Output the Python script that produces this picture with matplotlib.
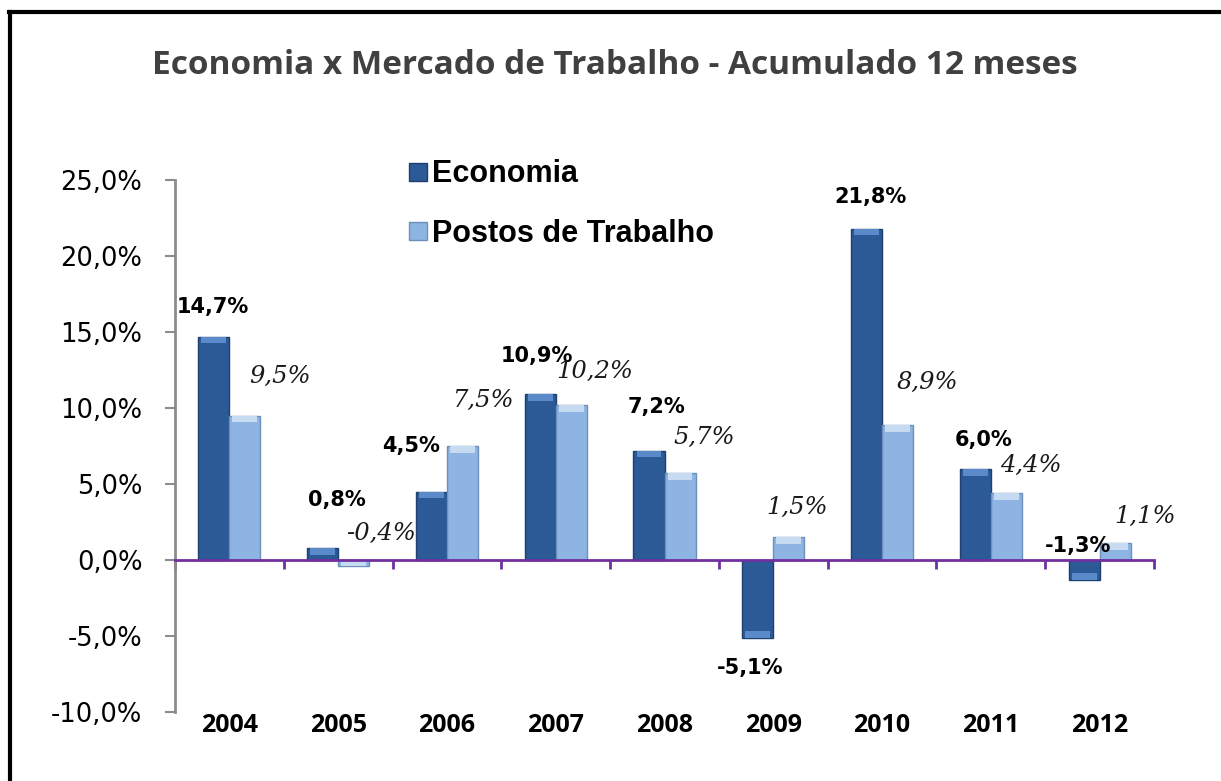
import numpy as np
import matplotlib
matplotlib.use('Agg')
import matplotlib.pyplot as plt
from matplotlib.lines import Line2D
from matplotlib.ticker import FuncFormatter

# Data
years = ['2004', '2005', '2006', '2007', '2008', '2009', '2010', '2011', '2012']
economia = [14.7, 0.8, 4.5, 10.9, 7.2, -5.1, 21.8, 6.0, -1.3]
postos = [9.5, -0.4, 7.5, 10.2, 5.7, 1.5, 8.9, 4.4, 1.1]
series_names = ['Economia', 'Postos de Trabalho']

# label offsets in pixels (dx, dy) from bar end
eco_off = [(-1, 30), (14, 48), (-20, 46), (-3, 38), (8, 44), (-8, -30), (4, 32), (8, 29), (-6, 34)]
pos_off = [(35, 39), (27, 33), (20, 46), (24, 33), (24, 36), (8, 30), (30, 42), (24, 28), (30, 27)]

DARK = '#2B5A97'
DARK_EDGE = '#1E406E'
LIGHT = '#8DB4E2'
LIGHT_EDGE = '#6E8FBA'
PURPLE = '#7030A0'

W, H = 1221, 781
fig = plt.figure(figsize=(W / 100, H / 100), dpi=100)
ax = fig.add_axes([175 / W, 1 - 712 / H, (1154 - 175) / W, (712 - 180) / H])

x = np.arange(len(years))
bw = 0.285
b1 = ax.bar(x - bw / 2, economia, bw, color=DARK, edgecolor=DARK_EDGE, linewidth=1, zorder=3)
b2 = ax.bar(x + bw / 2, postos, bw, color=LIGHT, edgecolor=LIGHT_EDGE, linewidth=1, zorder=3)

# light bevel at bar tops
for bars, col in ((b1, '#5B8ACB'), (b2, '#C6DBF2')):
    for b in bars:
        h = b.get_height()
        sgn = 1 if h >= 0 else -1
        cap = min(abs(h), 0.45)
        ax.bar(b.get_x() + b.get_width() / 2, sgn * cap, b.get_width() * 0.8,
               bottom=h - sgn * cap, color=col, linewidth=0, zorder=4)

ax.set_xlim(-0.5, len(years) - 0.5)
ax.set_ylim(-10, 25)
ax.set_yticks(np.arange(-10, 26, 5))
ax.yaxis.set_major_formatter(FuncFormatter(lambda v, p: f'{v:.1f}%'.replace('.', ',')))

for s in ('top', 'right'):
    ax.spines[s].set_visible(False)
ax.spines['left'].set_color('#8C8C8C')
ax.spines['left'].set_linewidth(2)
ax.spines['bottom'].set_position(('data', 0))
ax.spines['bottom'].set_color(PURPLE)
ax.spines['bottom'].set_linewidth(2)
ax.spines['bottom'].set_zorder(5)

ax.tick_params(axis='y', colors='#8C8C8C', length=7.5, width=1.5, pad=16,
               labelsize=18.5, labelcolor='black')
ax.set_xticks(x)
ax.set_xticklabels([])
ax.tick_params(axis='x', which='major', length=0)
ax.set_xticks(np.arange(len(years) + 1) - 0.5, minor=True)
ax.tick_params(axis='x', which='minor', direction='out', length=6.5, width=2, color=PURPLE)

for i, yr in enumerate(years):
    ax.annotate(yr, (i, -10), xytext=(0, -1), textcoords='offset pixels',
                ha='center', va='top', fontsize=18, fontweight='bold',
                family='Open Sans', color='black')

# data labels
for i in range(len(years)):
    v = economia[i]
    dx, dy = eco_off[i]
    ax.annotate(f'{v:.1f}%'.replace('.', ','), (i - bw / 2, v), xytext=(dx, dy),
                textcoords='offset pixels', ha='center', va='center',
                fontsize=15, fontweight='bold', color='black', zorder=6)
    v = postos[i]
    dx, dy = pos_off[i]
    ax.annotate(f'{v:.1f}%'.replace('.', ','), (i + bw / 2, v), xytext=(dx, dy),
                textcoords='offset pixels', ha='center', va='center',
                fontsize=17.5, style='italic', family='DejaVu Serif', color='#1a1a1a', zorder=6)

# legend
handles = [Line2D([], [], marker='s', ls='none', markersize=13, markerfacecolor=DARK, markeredgecolor=DARK_EDGE),
           Line2D([], [], marker='s', ls='none', markersize=13, markerfacecolor=LIGHT, markeredgecolor=LIGHT_EDGE)]
leg = ax.legend(handles, series_names, loc='upper left', bbox_to_anchor=((382 - 175) / (1154 - 175), 1 + 48 / 532),
                frameon=False, prop={'family': 'Liberation Sans', 'weight': 'bold', 'size': 22},
                handlelength=0.55, handletextpad=0.2, labelspacing=0.95)

fig.text(615 / W, 1 - 65 / H, 'Economia x Mercado de Trabalho - Acumulado 12 meses',
         ha='center', va='center', fontsize=24, fontweight='bold', family='Open Sans', color='#404040')

# outer frame (left and top edges)
fig.add_artist(Line2D([10 / W, 10 / W], [0, 1 - 11.5 / H], color='black', lw=3, transform=fig.transFigure))
fig.add_artist(Line2D([8.5 / W, 1], [1 - 11.5 / H, 1 - 11.5 / H], color='black', lw=3, transform=fig.transFigure))

fig.savefig('out.png', dpi=100, facecolor='white')
